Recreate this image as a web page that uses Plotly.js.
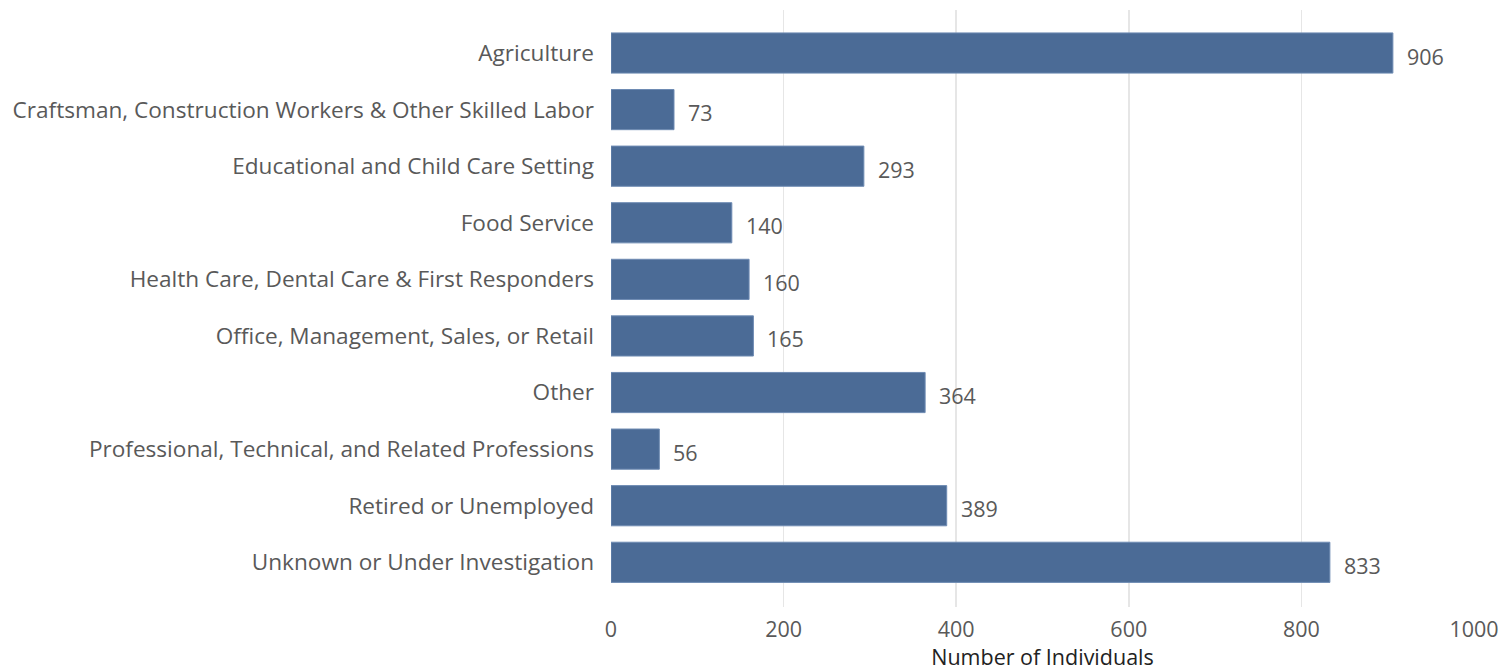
<!DOCTYPE html>
<html>
<head>
<meta charset="utf-8">
<script src="https://cdn.plot.ly/plotly-3.0.1.min.js"></script>
<style>html,body{margin:0;padding:0;background:#fff;}#chart{width:1507px;height:672px;}</style>
</head>
<body>
<div id="chart"></div>
<script>
const categories = [
  "Agriculture",
  "Craftsman, Construction Workers & Other Skilled Labor",
  "Educational and Child Care Setting",
  "Food Service",
  "Health Care, Dental Care & First Responders",
  "Office, Management, Sales, or Retail",
  "Other",
  "Professional, Technical, and Related Professions",
  "Retired or Unemployed",
  "Unknown or Under Investigation"
];
const counts = [906, 73, 293, 140, 160, 165, 364, 56, 389, 833];
const xTicks = [0, 200, 400, 600, 800, 1000];

const FONT = "Open Sans, Noto Sans, sans-serif";
const trace = {
  type: "bar",
  orientation: "h",
  x: counts,
  y: categories,
  marker: {color: "#4B6B96", line: {color: "#6E8BB3", width: 1}},
  width: 0.71,
  hoverinfo: "x+y"
};
const annotations = counts.map((v, i) => ({
  x: v, y: categories[i], xref: "x", yref: "y",
  text: String(v), showarrow: false, xanchor: "left", yanchor: "middle",
  xshift: 12, yshift: -3,
  font: {family: FONT, size: 21.5, color: "#595959"}
}));
const layout = {
  width: 1507, height: 672,
  margin: {l: 611, r: 33, t: 10, b: 65},
  paper_bgcolor: "#fff", plot_bgcolor: "#fff",
  showlegend: false,
  font: {family: FONT, size: 21, color: "#595959"},
  xaxis: {
    range: [0, 1000], tickvals: xTicks, ticktext: xTicks.map(String),
    showgrid: true, gridcolor: "#E6E6E6", gridwidth: 1.5,
    zeroline: false, showline: false, ticks: "",
    ticklabelstandoff: 7,
    tickfont: {family: FONT, size: 21.5, color: "#595959"},
    title: {text: "Number of Individuals", font: {family: FONT, size: 21.5, color: "#222"}, standoff: 6}
  },
  yaxis: {
    type: "category",
    range: [9.79, -0.76],
    showgrid: false, zeroline: false, showline: false, ticks: "",
    ticklabelstandoff: 16,
    tickfont: {family: FONT, size: 22.6, color: "#595959"}
  },
  annotations: annotations
};
Plotly.newPlot("chart", [trace], layout, {displayModeBar: false, staticPlot: true});
</script>
</body>
</html>
